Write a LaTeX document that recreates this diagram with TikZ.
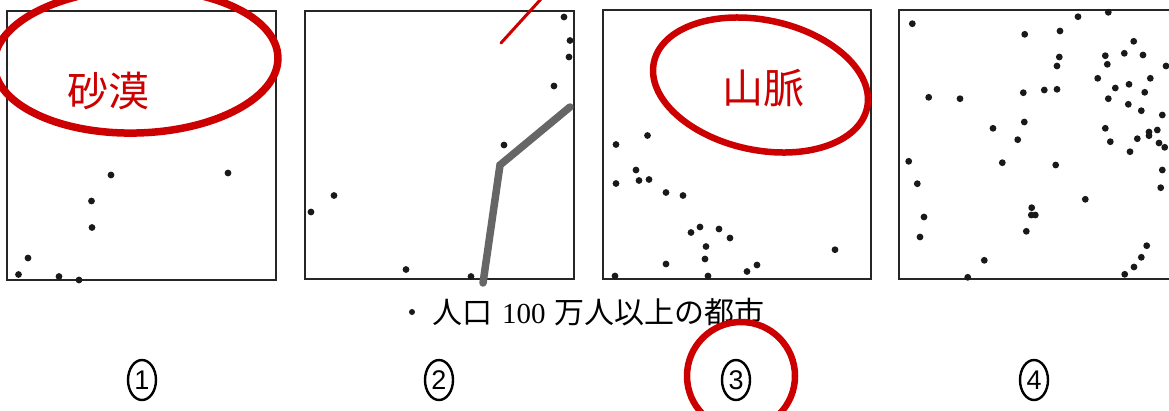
\documentclass[tikz,border=0pt]{standalone}
\usepackage{fontspec}
\setmainfont{Liberation Serif}
\setsansfont{Liberation Sans}
\newfontfamily\cjk{Noto Sans CJK JP}
\definecolor{markred}{HTML}{CC0000}
\definecolor{markgray}{HTML}{666666}
\tikzset{
  mapframe/.style={draw=black!85,line width=2pt},
  citydot/.style={fill=black!90,draw=none},
  redmark/.style={draw=markred,line cap=round,line join=round},
  redword/.style={text=markred,font=\cjk\fontsize{41}{41}\selectfont,inner sep=0pt},
  optnum/.style={draw=black,line width=2.4pt,ellipse,minimum width=28pt,minimum height=40pt,inner sep=0pt,font=\sffamily\fontsize{27}{27}\selectfont},
}
\usetikzlibrary{shapes.geometric}
\begin{document}
\begin{tikzpicture}[x=1pt,y=-1pt]
\useasboundingbox (0,0) rectangle (1169,410);
\fill[white] (0,0) rectangle (1169,410);
\clip (0,0) rectangle (1169,410);
% frames
\draw[mapframe] (7,10.5) rectangle (276,280);
\draw[mapframe] (304.5,10.5) rectangle (574,279);
\draw[mapframe] (602.5,10) rectangle (871,279);
\draw[mapframe] (1169,10) -- (899,10) -- (899,278.5) -- (1169,278.5);
% city dots
\foreach \p in {(111,175),(228,173),(91.5,201),(92,227.5),(28,258),(18.5,274.5),(59,276.5),(79,280),
 (564,17),(570,40.5),(569,57),(554,86),(504,145),(334,195.5),(311,212),(406,269.5),(471,276.5),
 (616,144.5),(647.5,135.5),(636,170),(639,180.5),(649,179.5),(616,183.5),(666,192.5),(683,195.5),(691,232.5),(700,227),(719,229),(730,238),(706,246.5),(705,259),(666,264),(615,276),(708,276),(747,271.5),(757,265),(835,249.7),
 (912.3,23.7),(1024.7,34.3),(1060,31),(1078,16.7),(1108.3,12.3),(1133.7,41.3),(1124.3,53.3),(1143,55),(1105.3,55.7),(1107.3,64.3),(1059.3,57),(1057,66),(1166,66),(1097.7,78.3),(1150.3,78.3),(1129,84.3),(1115.3,88),(1144.7,92.3),(1057,89.3),(1044.3,90),(1023.3,92.7),(928.7,97.3),(960,98.7),(1108.3,98.7),(1128.3,104.3),(1141.3,110.7),(1162.3,115),(1024.3,122),(993,128.3),(1105.3,128.3),(1157.3,130),(1149,132),(1149,135.7),(1137.3,138.7),(1017.7,139.7),(1110.3,141.7),(1159,143),(1164.7,147.3),(1130,151.7),(908.7,161.3),(1002.3,162.7),(1055.7,165),(1162.3,170),(917.3,183.7),(1160.7,187.7),(1085.3,199.3),(1031.7,207.7),(1031.3,215),(1035.3,215),(924,217),(1026.3,231.3),(920,237),(1146.7,245.7),(1141.3,257.3),(984.3,260.3),(1134,267),(1124.7,274.3),(967.7,277.3)}
  \fill[citydot] \p circle[radius=3.4pt];
% hand marks
\draw[redmark,line width=7.5pt,rotate around={1.5:(136,61)}] (136,61) ellipse[x radius=142pt,y radius=72pt];
\draw[redmark,line width=3pt] (501,43) -- (541,-1);
\draw[draw=markgray,line width=7.5pt,line cap=round,line join=miter] (483,283) -- (500,165) -- (570,107);
\draw[redmark,line width=6.5pt,rotate around={-12:(760.5,85)}] (760.5,85) ellipse[x radius=109pt,y radius=65pt];
\node[redword] (sabaku) at (108.5,91) {砂漠};
\node[redword] (sanmyaku) at (763,88) {山脈};
% legend
\fill[citydot] (412,312) circle[radius=3pt];
\node[anchor=west,inner sep=0pt,font=\cjk\fontsize{30}{30}\selectfont] (legend) at (432,312) {人口\hspace{10pt}{\rmfamily\fontsize{29}{29}\selectfont 100}\hspace{9pt}万人以上の都市};
% options
\node[optnum] (o1) at (142,380) {1};
\node[optnum] (o2) at (439,380) {2};
\node[optnum] (o3) at (736,380) {3};
\node[optnum] (o4) at (1034,380) {4};
\draw[redmark,line width=6.5pt] (741,376) circle[radius=54pt];
\end{tikzpicture}
\end{document}
